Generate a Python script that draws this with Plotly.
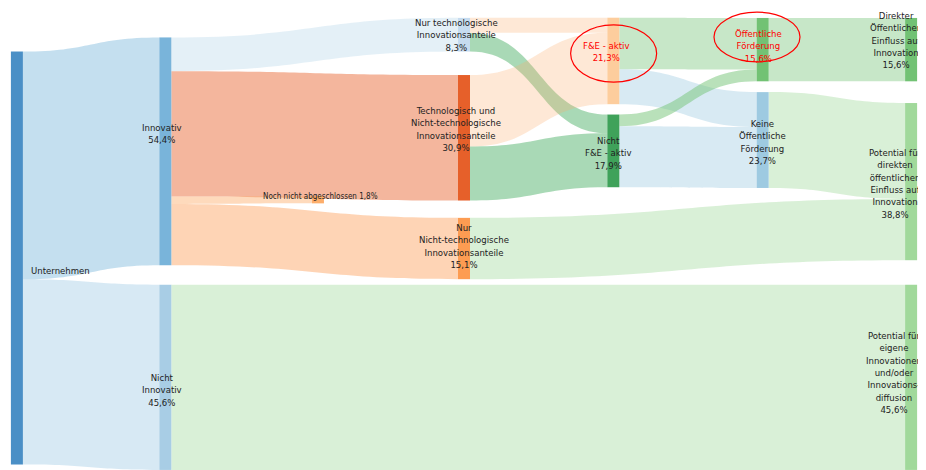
import plotly.graph_objects as go

# nodes
node_names = [
    "Unternehmen",
    "Innovativ",
    "Nicht<br>Innovativ",
    "Nur technologische<br>Innovationsanteile",
    "Technologisch und<br>Nicht-technologische<br>Innovationsanteile",
    "Noch nicht abgeschlossen",
    "Nur<br>Nicht-technologische<br>Innovationsanteile",
    "F&E - aktiv",
    "Nicht<br>F&E - aktiv",
    "Öffentliche<br>Förderung",
    "Keine<br>Öffentliche<br>Förderung",
    "Direkter<br>Öffentlichen<br>Einfluss auf<br>Innovation",
    "Potential für<br>direkten<br>öffentlichen<br>Einfluss auf<br>Innovation",
    "Potential für<br>eigene<br>Innovationen<br>und/oder<br>Innovations-<br>diffusion",
]
node_pct = [None, 54.4, 45.6, 8.3, 30.9, 1.8, 15.1, 21.3, 17.9, 15.6, 23.7, 15.6, 38.8, 45.6]

link_source = [0, 0, 1, 1, 1, 1, 2, 3, 3, 4, 4, 6, 7, 7, 8, 8, 9, 10]
link_target = [1, 2, 3, 4, 5, 6, 13, 7, 8, 7, 8, 12, 9, 10, 9, 10, 11, 12]
link_value = [56.1, 45.6, 8.3, 30.9, 1.8, 15.1, 45.6, 3.7, 4.6, 17.6, 13.3, 15.1, 12.7, 8.6, 2.9, 15.0, 15.6, 23.6]

node_colors = ["#4a8fc6", "#79b4da", "#a8cde5", "#c6dbef", "#e6602a", "#fdae6b", "#fd9c52",
               "#fdcd9d", "#3fa25a", "#72c274", "#9ecae1", "#72c274", "#a1d99b", "#a1d99b"]
link_colors = [
    "rgba(107,174,214,0.4)", "rgba(107,174,214,0.27)", "rgba(158,202,225,0.28)",
    "rgba(233,110,60,0.5)", "rgba(253,174,107,0.45)", "rgba(253,160,90,0.45)",
    "rgba(161,217,155,0.4)",
    "rgba(253,174,107,0.28)", "rgba(65,171,93,0.45)", "rgba(253,174,107,0.28)", "rgba(65,171,93,0.45)",
    "rgba(161,217,155,0.4)",
    "rgba(116,196,118,0.4)", "rgba(158,202,225,0.4)", "rgba(116,196,118,0.5)", "rgba(158,202,225,0.4)",
    "rgba(116,196,118,0.4)", "rgba(161,217,155,0.4)",
]

# node placement (centre, fraction of plot area)
node_x = [0.001, 1/6, 1/6, 3/6, 3/6, 0.337, 3/6, 4/6, 4/6, 5/6, 5/6, 0.999, 0.999, 0.999]
node_y = [0.531, 0.295, 0.795, 0.037, 0.265, 0.402, 0.510, 0.095, 0.294, 0.070, 0.270, 0.070, 0.362, 0.795]
# label offsets in px relative to node centre
label_dx = [44, -3, -3, -8, -8, 3, 0, -7, -5, -4, 0, -15, -16, -17]
label_dy = [12, -18, 13, 0, -9, -3, -3, -9, 2, -4, 2, -10, 2, -5]
highlight = [7, 9]

fig = go.Figure(go.Sankey(
    arrangement="fixed",
    node=dict(
        label=[""] * len(node_names),
        color=node_colors,
        x=node_x,
        y=node_y,
        pad=13,
        thickness=12,
        line=dict(width=0),
    ),
    link=dict(source=link_source, target=link_target, value=link_value, color=link_colors),
))

font = "DejaVu Sans Condensed, Liberation Sans, sans-serif"
for i, name in enumerate(node_names):
    txt = name
    if node_pct[i] is not None:
        pct = f"{node_pct[i]:.1f}%".replace(".", ",")
        txt = f"{name} {pct}" if i == 5 else f"{name}<br>{pct}"
    fig.add_annotation(
        x=node_x[i], y=1 - node_y[i], xref="paper", yref="paper",
        text=txt, showarrow=False, xanchor="center", yanchor="middle",
        xshift=label_dx[i], yshift=-label_dy[i],
        font=dict(family=font, size=9.5 if i != 5 else 8, color="red" if i in highlight else "#222"),
    )

# red ellipses around the highlighted nodes
fig.add_shape(type="circle", xref="paper", yref="paper", x0=0.619, x1=0.715, y0=0.858, y1=0.985,
              line=dict(color="red", width=1.2))
fig.add_shape(type="circle", xref="paper", yref="paper", x0=0.779, x1=0.875, y0=0.903, y1=1.013,
              line=dict(color="red", width=1.2))

fig.update_layout(
    width=926, height=470,
    margin=dict(l=8, r=22, t=10, b=8),
    paper_bgcolor="white",
    font=dict(family=font, size=10, color="#222"),
)
fig.write_html("out.html")
